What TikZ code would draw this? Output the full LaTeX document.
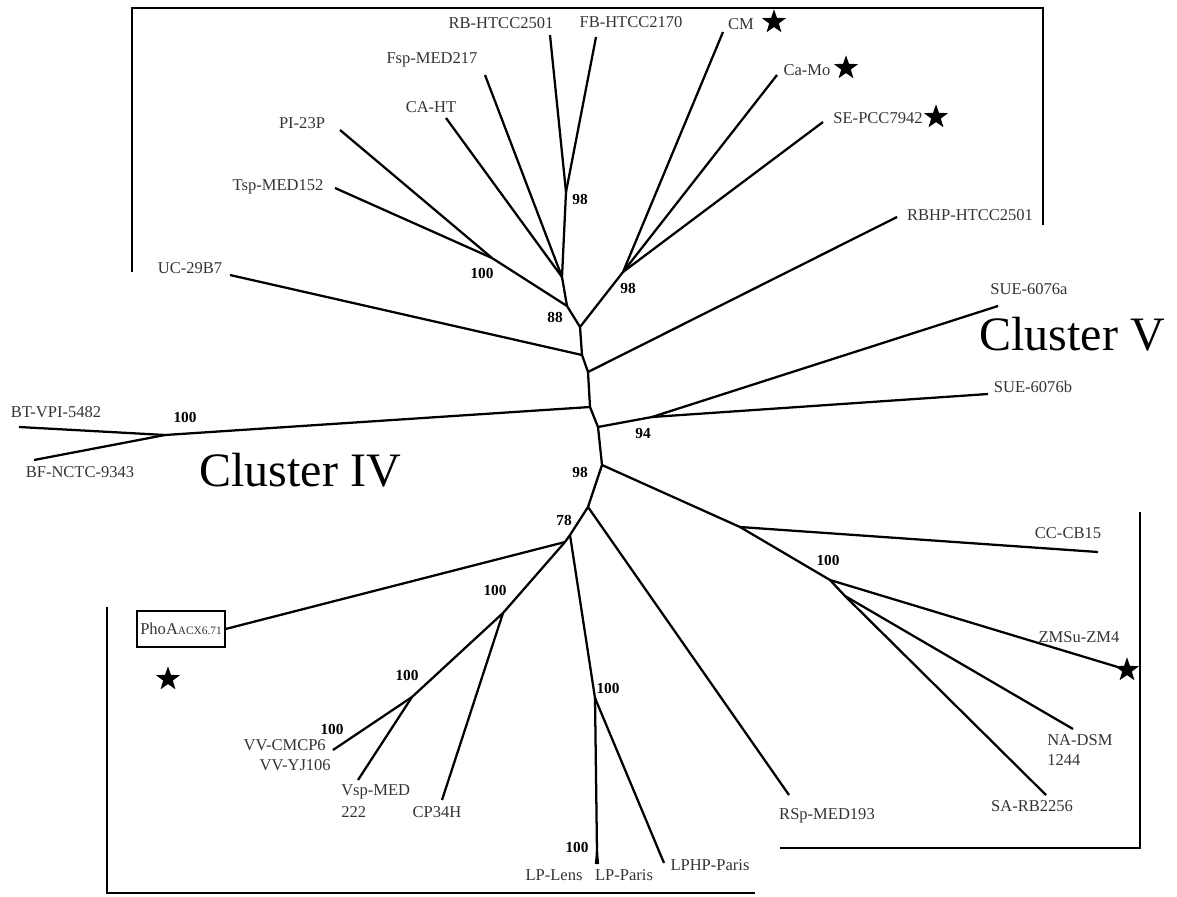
\documentclass[tikz,border=0pt]{standalone}
\usepackage{fontspec}
\setmainfont{Liberation Serif}
\usetikzlibrary{shapes.geometric}
\begin{document}
\begin{tikzpicture}[x=0.75pt,y=-0.75pt,
  branch/.style={line width=1.7pt, line join=round},
  frame/.style={line width=1.3pt},
  leaf/.style={font=\fontsize{12.4}{14}\selectfont, text=black!80, inner sep=0pt},
  boot/.style={font=\bfseries\fontsize{11.5}{13}\selectfont, inner sep=0pt},
  cluster/.style={font=\fontsize{36}{42}\selectfont, inner sep=0pt},
  starmark/.style={star, star points=5, star point ratio=2.5, fill=black, draw=none, inner sep=0pt, minimum size=19pt}]
\useasboundingbox (0,0) rectangle (1177,896);

% ---- tree points ----
\coordinate (RBend) at (550,35);
\coordinate (FBend) at (596,37);
\coordinate (n98a) at (566,192);
\coordinate (Fspend) at (485,75);
\coordinate (CAend) at (446,118);
\coordinate (X) at (562,277);
\coordinate (PIend) at (340,130);
\coordinate (Tspend) at (335,188);
\coordinate (n100a) at (492,258);
\coordinate (Y) at (567,306);
\coordinate (Z) at (580,327);
\coordinate (CMend) at (723,32);
\coordinate (CaMoend) at (777,75);
\coordinate (SEend) at (823,122);
\coordinate (n98b) at (623,272);
\coordinate (W) at (582,355);
\coordinate (UCend) at (230,275);
\coordinate (V) at (588,372);
\coordinate (RBHPend) at (897,217);
\coordinate (U) at (590,407);
\coordinate (n100bt) at (165,435);
\coordinate (BTend) at (19,427);
\coordinate (BFend) at (34,460);
\coordinate (T) at (598,427);
\coordinate (n94) at (652,417);
\coordinate (SUEaend) at (998,306);
\coordinate (SUEbend) at (988,394);
\coordinate (S) at (602,465);
\coordinate (CCnode) at (740,527);
\coordinate (CCend) at (1098,552);
\coordinate (n100c) at (830,580);
\coordinate (ZMend) at (1121,668);
\coordinate (M) at (845,596);
\coordinate (NAend) at (1073,729);
\coordinate (SAend) at (1046,795);
\coordinate (R) at (588,507);
\coordinate (RSpend) at (789,795);
\coordinate (P) at (570,535);
\coordinate (n100lp) at (595,698);
\coordinate (n100ll) at (597,852);
\coordinate (LLend) at (596,864);
\coordinate (LPend) at (598,864);
\coordinate (LPHPend) at (664,863);
\coordinate (Q) at (565,542);
\coordinate (n100v1) at (503,613);
\coordinate (CPend) at (442,800);
\coordinate (n100v2) at (412,697);
\coordinate (Vspend) at (358,780);
\coordinate (VVend) at (333,750);

% ---- boxed leaf ----
\node[draw, line width=0.8pt, minimum width=66pt, minimum height=27pt, inner sep=0pt, text=black!80,
      font=\fontsize{12.4}{14}\selectfont] (phoa) at (181,629)
  {PhoA\raisebox{-0.5pt}{\fontsize{8.5}{9}\selectfont ACX6.71}};

% ---- branches ----
\draw[branch] (RBend) -- (n98a);
\draw[branch] (FBend) -- (n98a);
\draw[branch] (n98a) -- (X);
\draw[branch] (Fspend) -- (X);
\draw[branch] (CAend) -- (X);
\draw[branch] (PIend) -- (n100a);
\draw[branch] (Tspend) -- (n100a);
\draw[branch] (n100a) -- (Y);
\draw[branch] (X) -- (Y);
\draw[branch] (Y) -- (Z);
\draw[branch] (CMend) -- (n98b);
\draw[branch] (CaMoend) -- (n98b);
\draw[branch] (SEend) -- (n98b);
\draw[branch] (n98b) -- (Z);
\draw[branch] (Z) -- (W);
\draw[branch] (UCend) -- (W);
\draw[branch] (W) -- (V);
\draw[branch] (RBHPend) -- (V);
\draw[branch] (V) -- (U);
\draw[branch] (BTend) -- (n100bt);
\draw[branch] (BFend) -- (n100bt);
\draw[branch] (n100bt) -- (U);
\draw[branch] (U) -- (T);
\draw[branch] (T) -- (n94);
\draw[branch] (n94) -- (SUEaend);
\draw[branch] (n94) -- (SUEbend);
\draw[branch] (T) -- (S);
\draw[branch] (S) -- (CCnode);
\draw[branch] (CCnode) -- (CCend);
\draw[branch] (CCnode) -- (n100c);
\draw[branch] (n100c) -- (ZMend);
\draw[branch] (n100c) -- (M);
\draw[branch] (M) -- (NAend);
\draw[branch] (M) -- (SAend);
\draw[branch] (S) -- (R);
\draw[branch] (R) -- (RSpend);
\draw[branch] (R) -- (P);
\draw[branch] (P) -- (Q);
\draw[branch] (P) -- (n100lp);
\draw[branch] (n100lp) -- (n100ll);
\draw[branch] (n100ll) -- (LLend);
\draw[branch] (n100ll) -- (LPend);
\draw[branch] (n100lp) -- (LPHPend);
\draw[branch] (Q) -- (phoa.east);
\draw[branch] (Q) -- (n100v1);
\draw[branch] (n100v1) -- (CPend);
\draw[branch] (n100v1) -- (n100v2);
\draw[branch] (n100v2) -- (Vspend);
\draw[branch] (n100v2) -- (VVend);

% ---- leaf labels ----
\node[leaf] (lRB) at (501,23) {RB-HTCC2501};
\node[leaf] (lFB) at (631,22) {FB-HTCC2170};
\node[leaf] (lCM) at (741,24) {CM};
\node[leaf] (lFsp) at (432,60) {Fsp-MED217};
\node[leaf] (lCA) at (431,107) {CA-HT};
\node[leaf] (lCaMo) at (807,70) {Ca-Mo};
\node[leaf] (lSE) at (878,118) {SE-PCC7942};
\node[leaf] (lPI) at (302,123) {PI-23P};
\node[leaf] (lTsp) at (278,187) {Tsp-MED152};
\node[leaf] (lRBHP) at (970,215) {RBHP-HTCC2501};
\node[leaf] (lUC) at (190,268) {UC-29B7};
\node[leaf] (lSUEa) at (1029,289) {SUE-6076a};
\node[leaf] (lSUEb) at (1033,387) {SUE-6076b};
\node[leaf] (lBT) at (56,412) {BT-VPI-5482};
\node[leaf] (lBF) at (80,472) {BF-NCTC-9343};
\node[leaf] (lCC) at (1068,533) {CC-CB15};
\node[leaf] (lZM) at (1079,637) {ZMSu-ZM4};
\node[leaf, anchor=west] (lNA) at (1047,740) {NA-DSM};
\node[leaf, anchor=west] (lNA2) at (1047,760) {1244};
\node[leaf] (lSA) at (1032,806) {SA-RB2256};
\node[leaf] (lRSp) at (827,816) {RSp-MED193};
\node[leaf] (lLPHP) at (710,865) {LPHP-Paris};
\node[leaf] (lLPP) at (624,875) {LP-Paris};
\node[leaf] (lLPL) at (554,875) {LP-Lens};
\node[leaf] (lCP) at (437,812) {CP34H};
\node[leaf, anchor=west] (lVsp) at (341,792) {Vsp-MED};
\node[leaf, anchor=west] (lVsp2) at (341,812) {222};
\node[leaf, anchor=east] (lVV1) at (326,745) {VV-CMCP6};
\node[leaf, anchor=east] (lVV2) at (331,765) {VV-YJ106};

% ---- cluster names ----
\node[cluster] (c5) at (1072,334) {Cluster V};
\node[cluster] (c4) at (300,470) {Cluster IV};

% ---- bootstrap values ----
\node[boot] (b1) at (580,199) {98};
\node[boot] (b2) at (482,273) {100};
\node[boot] (b3) at (555,317) {88};
\node[boot] (b4) at (628,288) {98};
\node[boot] (b5) at (185,417) {100};
\node[boot] (b6) at (643,433) {94};
\node[boot] (b7) at (580,472) {98};
\node[boot] (b8) at (564,520) {78};
\node[boot] (b9) at (828,560) {100};
\node[boot] (b10) at (495,590) {100};
\node[boot] (b11) at (407,675) {100};
\node[boot] (b12) at (332,729) {100};
\node[boot] (b13) at (608,688) {100};
\node[boot] (b14) at (577,847) {100};

% ---- stars ----
\node[starmark] (s1) at (774,22) {};
\node[starmark] (s2) at (846,68) {};
\node[starmark] (s3) at (936,117) {};
\node[starmark] (s4) at (1127,670) {};
\node[starmark] (s5) at (168,679) {};

% ---- cluster frames ----
\draw[frame] (132,272) -- (132,8) -- (1043,8) -- (1043,225);
\draw[frame] (107,607) -- (107,893) -- (755,893);
\draw[frame] (780,848) -- (1140,848) -- (1140,512);
\end{tikzpicture}
\end{document}
